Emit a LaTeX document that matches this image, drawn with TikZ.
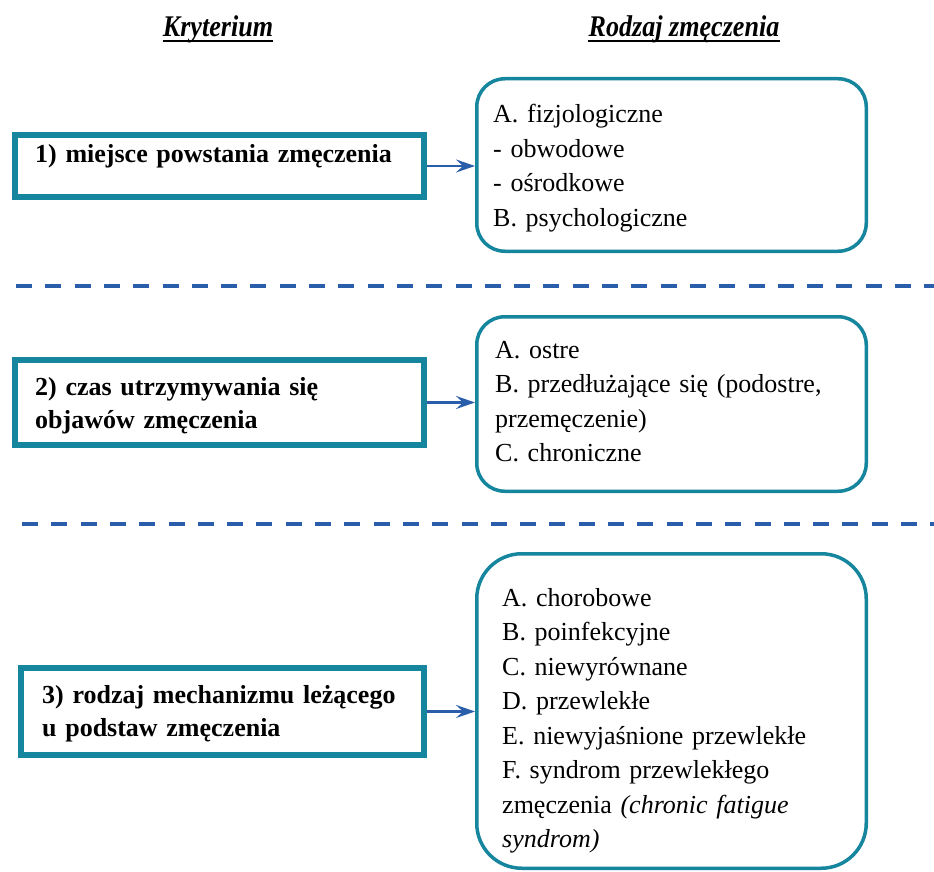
\documentclass[tikz,border=0pt]{standalone}
\usepackage{fontspec}
\setmainfont{Liberation Serif}
\usetikzlibrary{arrows.meta}
\definecolor{frameteal}{RGB}{22,133,158}
\definecolor{linkblue}{RGB}{43,94,170}
\frenchspacing

\begin{document}
\begin{tikzpicture}[x=1pt,y=-1pt,
  critframe/.style={draw=frameteal, line width=6pt, fill=white, inner sep=0pt},
  kindframe/.style={draw=frameteal, line width=3.5pt, fill=white, inner sep=0pt,
    rounded corners=28pt, minimum width=389.5pt},
  crittext/.style={anchor=base west, inner sep=0pt, align=left, text width=380pt,
    font=\fontsize{26}{33.5}\selectfont\bfseries},
  kindtext/.style={anchor=base west, inner sep=0pt, align=left, text width=360pt,
    font=\fontsize{26}{34.5}\selectfont},
  head/.style={anchor=base, inner sep=0pt, xscale=0.87, transform shape,
    font=\fontsize{30}{34}\selectfont\bfseries\itshape},
  headline/.style={draw=black, line width=1.8pt},
  link/.style={draw=linkblue, line width=2.4pt,
    -{Stealth[length=19pt, width=13pt, inset=7pt]}},
  sepline/.style={draw=linkblue, line width=4pt, dash pattern=on 16pt off 13.3pt},
]
\useasboundingbox (0,0) rectangle (934,872);

% column headers
\node[head] (hk) at (218,37) {Kryterium};
\node[head] (hr) at (684,37) {Rodzaj zmęczenia};
\draw[headline] ([yshift=-4pt]hk.base west) -- ([yshift=-4pt]hk.base east);
\draw[headline] ([yshift=-4pt]hr.base west) -- ([yshift=-4pt]hr.base east);

% criterion frames
\node[critframe, minimum width=409pt, minimum height=62pt] (l1) at (219.5,166) {};
\node[critframe, minimum width=409pt, minimum height=85pt] (l2) at (219.5,402.5) {};
\node[critframe, minimum width=403pt, minimum height=87pt] (l3) at (222.5,711.5) {};

% criterion labels
\node[crittext] (lt1) at (35,162) {1) miejsce powstania zmęczenia};
\node[crittext] (lt2) at (35,395) {2) czas utrzymywania się\\objawów zmęczenia};
\node[crittext] (lt3) at (42,703) {3) rodzaj mechanizmu leżącego\\u podstaw zmęczenia};

% fatigue-type frames
\node[kindframe, minimum height=172.5pt] (r1) at (671.5,165) {};
\node[kindframe, minimum height=174.5pt] (r2) at (671.5,404) {};
\node[kindframe, minimum height=314.5pt, rounded corners=45pt] (r3) at (671.5,711) {};

% fatigue-type lists
\node[kindtext] (rt1) at (493,123)
  {A. fizjologiczne\\- obwodowe\\- ośrodkowe\\B. psychologiczne};
\node[kindtext] (rt2) at (495,358)
  {A. ostre\\B. przedłużające się (podostre,\\przemęczenie)\\C. chroniczne};
\node[kindtext] (rt3) at (502,606)
  {A. chorobowe\\B. poinfekcyjne\\C. niewyrównane\\D. przewlekłe\\E. niewyjaśnione przewlekłe\\F. syndrom przewlekłego\\zmęczenia \textit{(chronic fatigue}\\\textit{syndrom)}};

% connectors
\draw[link] (l1.east) -- (l1.east -| r1.west);
\draw[link] (l2.east) -- (l2.east -| r2.west);
\draw[link] (l3.east) -- (l3.east -| r3.west);

% section separators
\coordinate (s1a) at (16,286);
\coordinate (s1b) at (934,286);
\coordinate (s2a) at (22,524);
\coordinate (s2b) at (934,524);
\draw[sepline] (s1a) -- (s1b);
\draw[sepline] (s2a) -- (s2b);
\end{tikzpicture}
\end{document}
